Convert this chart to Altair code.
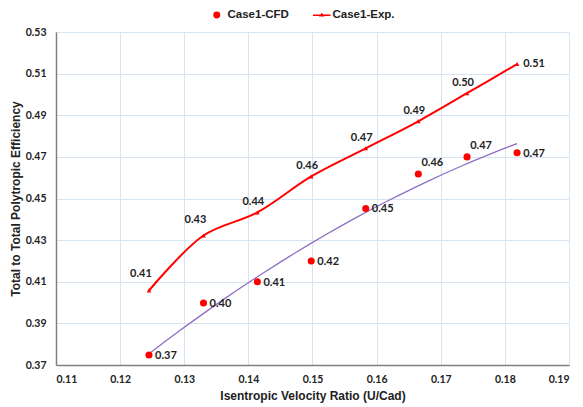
import altair as alt
import pandas as pd

# ---- data ----
u_cad = [0.1245, 0.1330, 0.1414, 0.1498, 0.1583, 0.1665, 0.1741, 0.1819]
cfd_eff = [0.3748, 0.3998, 0.4100, 0.4200, 0.4452, 0.4618, 0.4700, 0.4720]
exp_eff = [0.4058, 0.4322, 0.4433, 0.4606, 0.4741, 0.4871, 0.5006, 0.5146]
series_names = ["Case1-CFD", "Case1-Exp."]
x_ticks = [0.11, 0.12, 0.13, 0.14, 0.15, 0.16, 0.17, 0.18, 0.19]
y_ticks = [0.37, 0.39, 0.41, 0.43, 0.45, 0.47, 0.49, 0.51, 0.53]

RED = "#ff0000"
PURPLE = "#8f6fc4"
GRID = "#d6e4f5"
LBL_FONT = "Lato"

cfd = pd.DataFrame({"x": u_cad, "y": cfd_eff})
exp = pd.DataFrame({"x": u_cad, "y": exp_eff})
leg = pd.DataFrame({"series": series_names, "x": [u_cad[0]] * 2, "y": [cfd_eff[0]] * 2})

xs = alt.Scale(domain=[x_ticks[0], x_ticks[-1]], nice=False, zero=False)
ys = alt.Scale(domain=[y_ticks[0], y_ticks[-1]], nice=False, zero=False)

X = alt.X("x:Q", scale=xs, axis=alt.Axis(
    values=x_ticks, format=".2f", title="Isentropic Velocity Ratio (U/Cad)",
    grid=True, gridColor=GRID, domainColor="#808080", domainWidth=1.5, ticks=False,
    labelFont=LBL_FONT, labelFontWeight="bold", labelFontSize=10.5, labelColor="#222222",
    labelPadding=9, titleFont="Liberation Sans", titleFontSize=12, titleFontWeight="bold",
    titleColor="#222222", titlePadding=6))
Y = alt.Y("y:Q", scale=ys, axis=alt.Axis(
    values=y_ticks, format=".2f", title="Total to Total Polytropic Efficiency",
    grid=True, gridColor=GRID, domainColor="#808080", domainWidth=1.5, ticks=False,
    labelFont=LBL_FONT, labelFontWeight="bold", labelFontSize=10.5, labelColor="#222222",
    labelPadding=10, titleFont="Liberation Sans", titleFontSize=12, titleFontWeight="bold",
    titleColor="#222222", titlePadding=3))

base_cfd = alt.Chart(cfd)
base_exp = alt.Chart(exp)

trend = base_cfd.mark_line(color=PURPLE, strokeWidth=1.3).transform_regression(
    "x", "y", method="poly", order=2).encode(x=X, y=Y)

exp_line = base_exp.mark_line(color=RED, strokeWidth=2, interpolate="catmull-rom").encode(x=X, y=Y)
exp_pts = base_exp.mark_point(shape="triangle-up", filled=True, color=RED, size=22, opacity=1).encode(x=X, y=Y)
cfd_pts = base_cfd.mark_circle(color=RED, size=50, opacity=1).encode(x=X, y=Y)

txt = dict(font=LBL_FONT, fontWeight="bold", fontSize=11, color="#222222")
T = alt.Text("y:Q", format=".2f")

exp_lab_a = base_exp.transform_filter("datum.x < 0.135").mark_text(dx=-8, dy=-16, **txt).encode(x=X, y=Y, text=T)
exp_lab_b = base_exp.transform_filter("datum.x > 0.135 && datum.x < 0.18").mark_text(dx=-4, dy=-10, **txt).encode(x=X, y=Y, text=T)
exp_lab_c = base_exp.transform_filter("datum.x > 0.18").mark_text(dx=17, dy=0, **txt).encode(x=X, y=Y, text=T)

cfd_lab_a = base_cfd.transform_filter("datum.x < 0.16 || datum.x > 0.18").mark_text(dx=17, dy=1, **txt).encode(x=X, y=Y, text=T)
cfd_lab_b = base_cfd.transform_filter("datum.x > 0.16 && datum.x < 0.18").mark_text(dx=14, dy=-11, **txt).encode(x=X, y=Y, text=T)

legend_layer = alt.Chart(leg).mark_point(filled=True, opacity=0, size=30).encode(
    x=X, y=Y,
    color=alt.Color("series:N", scale=alt.Scale(domain=series_names, range=[RED, RED]),
                    legend=alt.Legend(title=None, orient="none", direction="horizontal",
                                      legendX=155, legendY=-23, symbolOpacity=1,
                                      symbolStrokeColor=RED, symbolStrokeWidth=1.5,
                                      symbolSize=30,
                                      labelFont="Liberation Sans", labelFontWeight="bold",
                                      labelFontSize=11.5, labelColor="#222222",
                                      columnPadding=20, labelOffset=5, padding=0)),
    shape=alt.Shape("series:N", scale=alt.Scale(
        domain=series_names,
        range=["circle", "M-3.2,0H3.2M-0.5,0.25L0,-0.4L0.5,0.25Z"]), legend=None),
)

chart = alt.layer(trend, exp_line, exp_pts, cfd_pts, exp_lab_a, exp_lab_b, exp_lab_c,
                  cfd_lab_a, cfd_lab_b, legend_layer).properties(
    width=513, height=333,
    autosize=alt.AutoSizeParams(type="none"),
    padding={"left": 48, "top": 24, "right": 6, "bottom": 42},
).configure_view(stroke=None).configure(background="white")

chart.save("out.html", embed_options={"renderer": "svg", "actions": False})
